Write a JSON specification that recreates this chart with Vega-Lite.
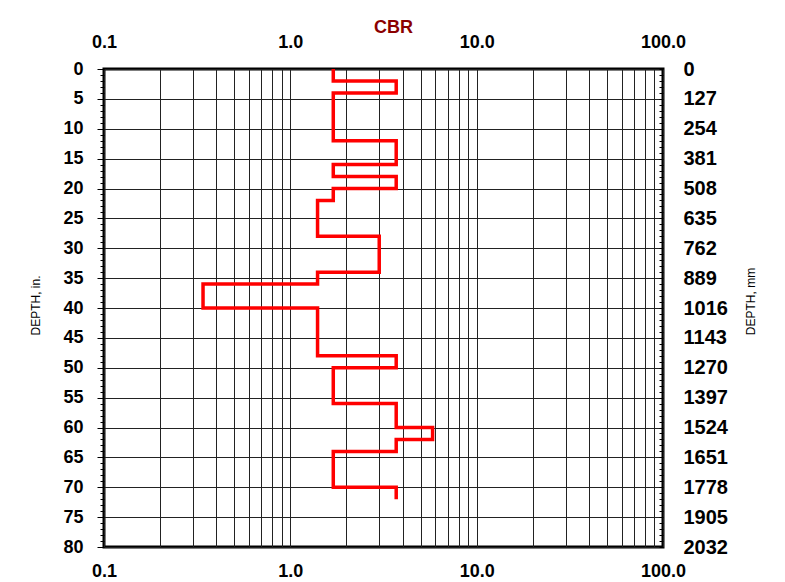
{
  "$schema": "https://vega.github.io/schema/vega-lite/v6.json",
  "width": 559,
  "height": 478,
  "autosize": {"type": "none"},
  "padding": {"left": 104, "top": 69, "right": 122, "bottom": 35},
  "background": "white",
  "title": {"text": "CBR", "color": "#8B0000", "fontSize": 18, "font": "Liberation Sans", "fontWeight": "bold", "dx": 10, "offset": -4},
  "config": {
    "view": {"stroke": "black", "strokeWidth": 3},
    "axis": {"labelFont": "Liberation Sans", "labelFontWeight": "bold", "labelColor": "black", "titleFont": "Liberation Sans", "titleFontWeight": "normal", "titleColor": "black", "titleFontSize": 12, "domain": false, "tickColor": "black", "gridColor": "#222", "gridWidth": 1}
  },
  "data": {"values": [
    {"i": 1, "cbr": 1.7, "depth": 0},
    {"i": 2, "cbr": 1.7, "depth": 2},
    {"i": 3, "cbr": 3.7, "depth": 2},
    {"i": 4, "cbr": 3.7, "depth": 4},
    {"i": 5, "cbr": 1.7, "depth": 4},
    {"i": 6, "cbr": 1.7, "depth": 12},
    {"i": 7, "cbr": 3.7, "depth": 12},
    {"i": 8, "cbr": 3.7, "depth": 16},
    {"i": 9, "cbr": 1.7, "depth": 16},
    {"i": 10, "cbr": 1.7, "depth": 18},
    {"i": 11, "cbr": 3.7, "depth": 18},
    {"i": 12, "cbr": 3.7, "depth": 20},
    {"i": 13, "cbr": 1.7, "depth": 20},
    {"i": 14, "cbr": 1.7, "depth": 22},
    {"i": 15, "cbr": 1.4, "depth": 22},
    {"i": 16, "cbr": 1.4, "depth": 28},
    {"i": 17, "cbr": 3.0, "depth": 28},
    {"i": 18, "cbr": 3.0, "depth": 34},
    {"i": 19, "cbr": 1.4, "depth": 34},
    {"i": 20, "cbr": 1.4, "depth": 36},
    {"i": 21, "cbr": 0.34, "depth": 36},
    {"i": 22, "cbr": 0.34, "depth": 40},
    {"i": 23, "cbr": 1.4, "depth": 40},
    {"i": 24, "cbr": 1.4, "depth": 48},
    {"i": 25, "cbr": 3.7, "depth": 48},
    {"i": 26, "cbr": 3.7, "depth": 50},
    {"i": 27, "cbr": 1.7, "depth": 50},
    {"i": 28, "cbr": 1.7, "depth": 56},
    {"i": 29, "cbr": 3.7, "depth": 56},
    {"i": 30, "cbr": 3.7, "depth": 60},
    {"i": 31, "cbr": 5.8, "depth": 60},
    {"i": 32, "cbr": 5.8, "depth": 62},
    {"i": 33, "cbr": 3.7, "depth": 62},
    {"i": 34, "cbr": 3.7, "depth": 64},
    {"i": 35, "cbr": 1.7, "depth": 64},
    {"i": 36, "cbr": 1.7, "depth": 70},
    {"i": 37, "cbr": 3.7, "depth": 70},
    {"i": 38, "cbr": 3.7, "depth": 72}
  ]},
  "layer": [
    {
      "mark": {"type": "line", "color": "#FF0000", "strokeWidth": 3.5, "strokeJoin": "miter", "clip": true},
      "encoding": {
        "x": {"field": "cbr", "type": "quantitative",
          "scale": {"type": "log", "domain": [0.1, 100], "nice": false},
          "axis": {"orient": "bottom", "title": null, "values": [0.1,0.2,0.3,0.4,0.5,0.6,0.7,0.8,0.9,1,2,3,4,5,6,7,8,9,10,20,30,40,50,60,70,80,90,100],
            "labelExpr": "indexof([0.1,1,10,100], datum.value) >= 0 ? format(datum.value, '.1f') : ''",
            "ticks": false, "grid": true, "labelFontSize": 18, "labelPadding": 15, "labelFlush": false, "labelOverlap": false}},
        "y": {"field": "depth", "type": "quantitative",
          "scale": {"domain": [0, 80], "reverse": true, "nice": false, "zero": false},
          "axis": {"orient": "left", "title": "DEPTH, in.", "titleX": -62, "titleY": 236, "titleAngle": 270,
            "values": [0,1,2,3,4,5,6,7,8,9,10,11,12,13,14,15,16,17,18,19,20,21,22,23,24,25,26,27,28,29,30,31,32,33,34,35,36,37,38,39,40,41,42,43,44,45,46,47,48,49,50,51,52,53,54,55,56,57,58,59,60,61,62,63,64,65,66,67,68,69,70,71,72,73,74,75,76,77,78,79,80],
            "labelExpr": "datum.value % 5 === 0 ? datum.value : ''",
            "tickSize": {"condition": {"test": "datum.value % 5 === 0", "value": 7}, "value": 4},
            "gridOpacity": {"condition": {"test": "datum.value % 5 === 0", "value": 1}, "value": 0},
            "grid": true, "labelFontSize": 18, "labelPadding": 14, "labelFlush": false, "labelOverlap": false}},
        "order": {"field": "i", "type": "quantitative"}
      }
    },
    {
      "mark": {"type": "line", "opacity": 0},
      "encoding": {
        "x": {"field": "cbr", "type": "quantitative",
          "scale": {"type": "log", "domain": [0.1, 100], "nice": false},
          "axis": {"orient": "top", "title": null, "values": [0.1, 1, 10, 100], "format": ".1f",
            "ticks": false, "grid": false, "labelFontSize": 18, "labelPadding": 18, "labelFlush": false, "labelOverlap": false}},
        "y": {"field": "depth", "type": "quantitative",
          "scale": {"domain": [0, 80], "reverse": true, "nice": false, "zero": false},
          "axis": {"orient": "right", "title": "DEPTH, mm", "titleAngle": 270, "titleX": 94, "titleY": 232,
            "values": [0,1,2,3,4,5,6,7,8,9,10,11,12,13,14,15,16,17,18,19,20,21,22,23,24,25,26,27,28,29,30,31,32,33,34,35,36,37,38,39,40,41,42,43,44,45,46,47,48,49,50,51,52,53,54,55,56,57,58,59,60,61,62,63,64,65,66,67,68,69,70,71,72,73,74,75,76,77,78,79,80],
            "labelExpr": "datum.value % 5 === 0 ? format(datum.value * 25.4, 'd') : ''",
            "tickSize": -4, "grid": false, "labelFontSize": 20, "labelPadding": 24, "labelFlush": false, "labelOverlap": false}},
        "order": {"field": "i", "type": "quantitative"}
      }
    }
  ],
  "resolve": {"axis": {"x": "independent", "y": "independent"}}
}
